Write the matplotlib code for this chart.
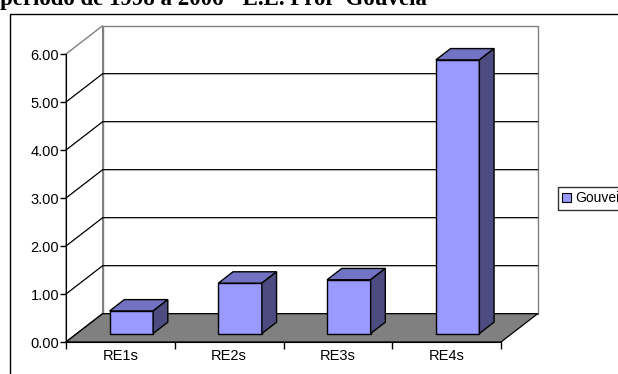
import numpy as np
import matplotlib
matplotlib.use('Agg')
import matplotlib.pyplot as plt
from matplotlib.patches import Polygon, Rectangle

categorias = ['RE1s', 'RE2s', 'RE3s', 'RE4s']
gouveia = [0.47, 1.05, 1.12, 5.70]
serie = 'Gouveia'
titulo = 'período de 1998 a 2006 - E.E. Profª Gouveia'
yticks = [0, 1, 2, 3, 4, 5, 6]

# profundidade obliqua (unidades de dados)
DX, DY = 0.3375, 0.59
# posicao da barra na profundidade e largura
D0, D1 = 0.30, 0.70
LARG = 0.40

cor_frente = '#9999ff'
cor_topo = '#7373c3'
cor_lado = '#4c4c80'

W, H = 618, 374
fig = plt.figure(figsize=(W/100, H/100), dpi=100)
ax = fig.add_axes([66/W, (H-342)/H, (501-66)/W, (342-54)/H])
ax.set_xlim(0, 4)
ax.set_ylim(0, 6)
ax.patch.set_alpha(0)


def p(x, y, d):
    return (x + DX*d, y + DY*d)


def poli(pts, fc, ec='black', lw=1.0, z=1):
    ax.add_patch(Polygon(pts, closed=True, facecolor=fc, edgecolor=ec,
                         linewidth=lw, zorder=z, clip_on=False, joinstyle='miter'))


# paredes
poli([p(0, 0, 1), p(4, 0, 1), p(4, 6, 1), p(0, 6, 1)], 'white', '#808080', 1.0, 0)
poli([p(0, 0, 0), p(0, 0, 1), p(0, 6, 1), p(0, 6, 0)], 'white', '#808080', 1.0, 0)

# grade
for v in yticks[:-1]:
    ax.plot([p(0, v, 0)[0], p(0, v, 1)[0], p(4, v, 1)[0]],
            [p(0, v, 0)[1], p(0, v, 1)[1], p(4, v, 1)[1]],
            color='black', lw=0.9, zorder=1, clip_on=False)

# piso
poli([p(0, 0, 0), p(4, 0, 0), p(4, 0, 1), p(0, 0, 1)], '#808080', 'black', 0.9, 2)

# barras
for i, v in enumerate(gouveia):
    x0 = i + 0.5 - LARG/2
    x1 = i + 0.5 + LARG/2
    poli([p(x0, 0, D0), p(x1, 0, D0), p(x1, v, D0), p(x0, v, D0)], cor_frente, z=3)
    poli([p(x0, v, D0), p(x1, v, D0), p(x1, v, D1), p(x0, v, D1)], cor_topo, z=3)
    poli([p(x1, 0, D0), p(x1, 0, D1), p(x1, v, D1), p(x1, v, D0)], cor_lado, z=3)

# eixos
for s in ['top', 'right']:
    ax.spines[s].set_visible(False)
ax.spines['left'].set_zorder(4)
ax.spines['bottom'].set_zorder(4)
ax.set_yticks(yticks)
ax.set_yticklabels(['%.2f' % v for v in yticks])
ax.set_xticks(np.arange(0, 5))
ax.set_xticklabels([])
ax.set_xticks(np.arange(len(categorias)) + 0.5, minor=True)
ax.set_xticklabels(categorias, minor=True)
ax.tick_params(axis='y', length=4, width=1, pad=1, labelsize=10.5, direction='out')
ax.tick_params(axis='x', which='major', length=5, width=1, direction='out')
ax.tick_params(axis='x', which='minor', length=0, pad=5, labelsize=10.5)
for t in ax.get_xticklabels(minor=True) + ax.get_yticklabels():
    t.set_fontfamily('Liberation Sans')

# legenda
leg = fig.legend(handles=[Rectangle((0, 0), 1, 1, fc=cor_frente, ec='black', lw=0.8)],
                 labels=[serie], loc='upper left', bbox_to_anchor=(557.5/W, 1 - 186.5/H),
                 frameon=True, fancybox=False, edgecolor='black', borderpad=0.35,
                 borderaxespad=0, handlelength=0.65, handleheight=0.7, handletextpad=0.3,
                 prop={'family': 'Liberation Sans', 'size': 10})
leg.get_frame().set_linewidth(1.0)

# moldura do grafico
fig.add_artist(Rectangle((9.5/W, -0.1), 1.2, 1 - 14.5/H + 0.1, transform=fig.transFigure,
                         fill=False, edgecolor='black', lw=1.0))

fig.text(0.0, 1 - 4.5/H, titulo, fontfamily='Liberation Serif', fontweight='bold',
         fontsize=16.5, ha='left', va='baseline')

fig.savefig('out.png', dpi=100)
